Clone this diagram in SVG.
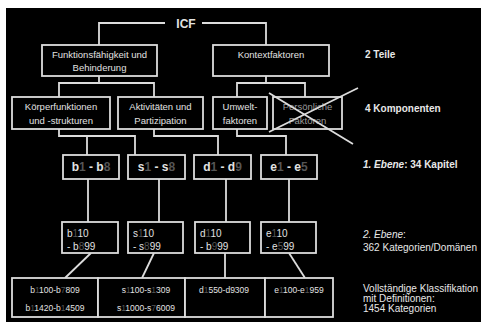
<svg xmlns="http://www.w3.org/2000/svg" width="481" height="325" viewBox="0 0 481 325">
<style>
.ln{fill:none;stroke:#dcdcdc;stroke-width:1.8}
.bx{fill:#000;stroke:#dcdcdc;stroke-width:1.8}
.t{font-family:"Liberation Sans",Arial,sans-serif;fill:#e2e2e2;font-size:9.5px;text-anchor:middle}
.tb{font-family:"Liberation Sans",Arial,sans-serif;fill:#e2e2e2;font-size:12px;font-weight:bold;text-anchor:middle}
.tl{font-family:"Liberation Sans",Arial,sans-serif;fill:#e2e2e2;font-size:10px}
.ts{font-family:"Liberation Sans",Arial,sans-serif;fill:#e2e2e2;font-size:8.5px;text-anchor:middle}
.r{font-family:"Liberation Sans",Arial,sans-serif;fill:#e8e8e8;font-size:10px}
.rb{font-weight:bold}
.dim{fill:#555}
.gray{fill:#9a9a9a}
</style>
<rect x="0" y="0" width="481" height="325" fill="#fff"/>
<rect x="6" y="8" width="475" height="314" fill="#000"/>

<g id="connectors">
<path class="ln" d="M165,23 H99 V45"/>
<path class="ln" d="M202,23 H266 V45"/>
<path class="ln" d="M99,76 V83"/>
<path class="ln" d="M59,97 V83 H154 V97"/>
<path class="ln" d="M266,76 V83"/>
<path class="ln" d="M237,97 V83 H305 V97"/>
<path class="ln" d="M59,129 V136 H135 V155"/>
<path class="ln" d="M87,136 V155"/>
<path class="ln" d="M154,129 V136 H218 V155"/>
<path class="ln" d="M237,129 V136 H286 V155"/>
<path class="ln" d="M88,179 V222"/>
<path class="ln" d="M159,179 V222"/>
<path class="ln" d="M226,179 V222"/>
<path class="ln" d="M289,179 V222"/>
<path class="ln" d="M91,253 L65,278"/>
<path class="ln" d="M154,253 L142,278"/>
<path class="ln" d="M225,253 V278"/>
<path class="ln" d="M289,253 L305,278"/>
</g>

<g id="icf"><text class="tb" x="186" y="28" font-size="13">ICF</text></g>

<g id="funktionsfaehigkeit">
<rect class="bx" x="42" y="45" width="115" height="31"/>
<text class="t" x="99.5" y="58">Funktionsfähigkeit und</text>
<text class="t" x="99.5" y="71">Behinderung</text>
</g>
<g id="kontextfaktoren">
<rect class="bx" x="213" y="45" width="116" height="31"/>
<text class="t" x="271" y="58">Kontextfaktoren</text>
</g>

<g id="koerperfunktionen">
<rect class="bx" x="12" y="97" width="98" height="32"/>
<text class="t" x="61" y="110">Körperfunktionen</text>
<text class="t" x="61" y="124">und -strukturen</text>
</g>
<g id="aktivitaeten">
<rect class="bx" x="118" y="97" width="85" height="32"/>
<text class="t" x="160.5" y="110">Aktivitäten und</text>
<text class="t" x="160.5" y="124">Partizipation</text>
</g>
<g id="umweltfaktoren">
<rect class="bx" x="213" y="97" width="54" height="32"/>
<text class="t" x="240" y="110">Umwelt-</text>
<text class="t" x="240" y="124">faktoren</text>
</g>
<g id="persoenliche">
<rect class="bx" x="273" y="97" width="69" height="32"/>
<text class="t gray" x="307.5" y="110">Persönliche</text>
<text class="t gray" x="307.5" y="124">Faktoren</text>
<path class="ln" d="M269,93 L353,144 M358,88 L269,132"/>
</g>

<g id="b1-b8">
<rect class="bx" x="63" y="155" width="56" height="24"/>
<text class="tb" x="91" y="171">b<tspan class="dim">1</tspan> - b<tspan class="dim">8</tspan></text>
</g>
<g id="s1-s8">
<rect class="bx" x="128" y="155" width="57" height="24"/>
<text class="tb" x="156.5" y="171">s<tspan class="dim">1</tspan> - s<tspan class="dim">8</tspan></text>
</g>
<g id="d1-d9">
<rect class="bx" x="194" y="155" width="57" height="24"/>
<text class="tb" x="222.5" y="171">d<tspan class="dim">1</tspan> - d<tspan class="dim">9</tspan></text>
</g>
<g id="e1-e5">
<rect class="bx" x="261" y="155" width="56" height="24"/>
<text class="tb" x="289" y="171">e<tspan class="dim">1</tspan> - e<tspan class="dim">5</tspan></text>
</g>

<g id="b110">
<rect class="bx" x="62" y="222" width="56" height="31"/>
<text class="tl" x="67" y="237">b<tspan class="dim">1</tspan>10</text>
<text class="tl" x="67" y="250">- b<tspan class="dim">8</tspan>99</text>
</g>
<g id="s110">
<rect class="bx" x="128" y="222" width="55" height="31"/>
<text class="tl" x="133" y="237">s<tspan class="dim">1</tspan>10</text>
<text class="tl" x="133" y="250">- s<tspan class="dim">8</tspan>99</text>
</g>
<g id="d110">
<rect class="bx" x="195" y="222" width="55" height="31"/>
<text class="tl" x="200" y="237">d<tspan class="dim">1</tspan>10</text>
<text class="tl" x="200" y="250">- b<tspan class="dim">9</tspan>99</text>
</g>
<g id="e110">
<rect class="bx" x="261" y="222" width="55" height="31"/>
<text class="tl" x="266" y="237">e<tspan class="dim">1</tspan>10</text>
<text class="tl" x="266" y="250">- e<tspan class="dim">5</tspan>99</text>
</g>

<g id="b-full">
<rect class="bx" x="12" y="278" width="86" height="39"/>
<text class="ts" x="55" y="293">b<tspan class="dim">1</tspan>100-b<tspan class="dim">7</tspan>809</text>
<text class="ts" x="55" y="311">b<tspan class="dim">1</tspan>1420-b<tspan class="dim">1</tspan>4509</text>
</g>
<g id="s-full">
<rect class="bx" x="98" y="278" width="87" height="39"/>
<text class="ts" x="146" y="293">s<tspan class="dim">1</tspan>100-s<tspan class="dim">1</tspan>309</text>
<text class="ts" x="146" y="311">s<tspan class="dim">1</tspan>1000-s<tspan class="dim">7</tspan>6009</text>
</g>
<g id="d-full">
<rect class="bx" x="185" y="278" width="80" height="39"/>
<text class="ts" x="224" y="293">d<tspan class="dim">1</tspan>550-d9309</text>
</g>
<g id="e-full">
<rect class="bx" x="265" y="278" width="68" height="39"/>
<text class="ts" x="299" y="293">e<tspan class="dim">1</tspan>100-e<tspan class="dim">1</tspan>959</text>
</g>

<g id="labels">
<text class="r rb" x="365" y="58">2 Teile</text>
<text class="r rb" x="365" y="112">4 Komponenten</text>
<text class="r rb" x="363" y="168"><tspan font-style="italic">1. Ebene</tspan>: 34 Kapitel</text>
<text class="r" x="363" y="238"><tspan font-style="italic">2. Ebene</tspan>:</text>
<text class="r" x="363" y="251">362 Kategorien/Domänen</text>
<text class="r" x="363" y="292" font-size="9">Vollständige Klassifikation</text>
<text class="r" x="363" y="302" font-size="9">mit Definitionen:</text>
<text class="r" x="363" y="312" font-size="9">1454 Kategorien</text>
</g>
</svg>
